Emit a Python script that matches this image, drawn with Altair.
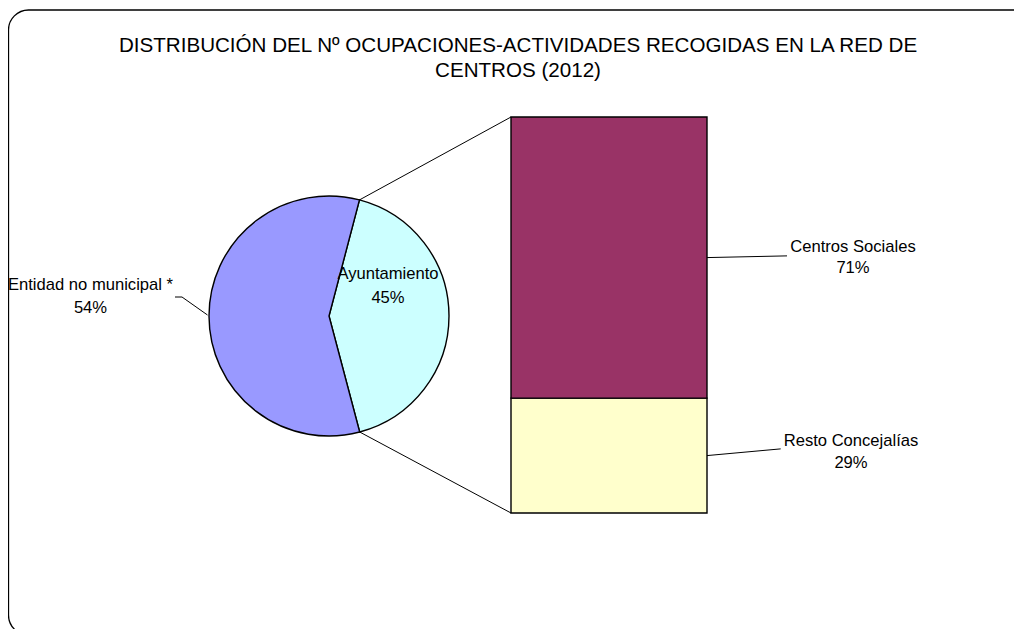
import math
import altair as alt
import pandas as pd

# ---------------- data ----------------
title_lines = ["DISTRIBUCIÓN DEL Nº OCUPACIONES-ACTIVIDADES RECOGIDAS EN LA RED DE",
               "CENTROS (2012)"]

pie_labels = ["Ayuntamiento", "Entidad no municipal *"]
pie_share = [41.8, 58.2]          # slice sizes as drawn in the reference (% of circle)
pie_pct_text = ["45%", "54%"]     # printed data labels

bar_labels = ["Resto Concejalías", "Centros Sociales"]
bar_share = [29, 71]
bar_pct_text = ["29%", "71%"]

# ---------------- styles / layout ----------------
colour_domain = pie_labels + bar_labels
colour_range = ["#CCFFFF", "#9999FF", "#FFFFCC", "#993366"]
FONT = "Liberation Sans"
W, H = 1006, 621
CX, CY, R = 321, 308, 120
START = math.radians(14.7)
BAR_X0, BAR_X1, BAR_TOP, BAR_BOT = 503, 699, 109, 505

# tables built from the arrays
pie_t1 = []
acc = 0
for v in pie_share:
    pie_t1.append(acc + v)
    acc += v
pie_df = pd.DataFrame({"cat": pie_labels,
                       "t0": [t - v for t, v in zip(pie_t1, pie_share)],
                       "t1": pie_t1})
bar_t1 = []
acc = 0
for v in bar_share:
    bar_t1.append(acc + v)
    acc += v
bar_df = pd.DataFrame({"cat": bar_labels,
                       "y0": [t - v for t, v in zip(bar_t1, bar_share)],
                       "y1": bar_t1})
one = pd.DataFrame({"k": [0]})

colour = alt.Color("cat:N", scale=alt.Scale(domain=colour_domain, range=colour_range), legend=None)

frame = alt.Chart(one).mark_rect(cornerRadius=20, fill="white", stroke="black", strokeWidth=1.3).encode(
    x=alt.value(0.5), x2=alt.value(1025), y=alt.value(2), y2=alt.value(627))

title = alt.Chart(one).mark_text(font=FONT, fontSize=20.6, align="center", baseline="alphabetic",
                                 lineBreak="\n", lineHeight=25, color="black").encode(
    x=alt.value(510), y=alt.value(44), text=alt.value("\n".join(title_lines)))

pie = alt.Chart(pie_df).mark_arc(radius=R, stroke="black", strokeWidth=1.4).encode(
    theta=alt.Theta("t0:Q", scale=alt.Scale(domain=[0, 100], range=[START, START + 2 * math.pi])),
    theta2="t1:Q",
    color=colour,
    x=alt.value(CX), y=alt.value(CY))

bar = alt.Chart(bar_df).mark_rect(stroke="black", strokeWidth=1.4).encode(
    y=alt.Y("y0:Q", scale=alt.Scale(domain=[0, 100], range=[BAR_BOT, BAR_TOP]), axis=None),
    y2="y1:Q",
    x=alt.value(BAR_X0), x2=alt.value(BAR_X1),
    color=colour)

# connector lines from the pie's secondary slice edges to the bar corners
a1 = START
a2 = START + 2 * math.pi * pie_share[0] / 100
p1 = (CX + R * math.sin(a1), CY - R * math.cos(a1))
p2 = (CX + R * math.sin(a2), CY - R * math.cos(a2))


def seg(xa, ya, xb, yb):
    return alt.Chart(one).mark_rule(color="black", strokeWidth=1).encode(
        x=alt.value(xa), y=alt.value(ya), x2=alt.value(xb), y2=alt.value(yb))


def ypix(v):
    return BAR_BOT - (BAR_BOT - BAR_TOP) * v / 100


conn = [seg(p1[0], p1[1], BAR_X0, BAR_TOP), seg(p2[0], p2[1], BAR_X0, BAR_BOT)]

# bar leader lines (from segment middles)
mid_resto = ypix((bar_df.y0[0] + bar_df.y1[0]) / 2)
mid_centros = ypix((bar_df.y0[1] + bar_df.y1[1]) / 2)
leaders = [
    seg(BAR_X1, mid_centros, 779, mid_centros - 1.7),
    seg(BAR_X1, mid_resto, 772.7, mid_resto - 6.7),
    seg(167, 289, 174, 289),
    seg(174, 289, 199.5, 307),
]


def label(txt, x, y, lh):
    return alt.Chart(one).mark_text(font=FONT, fontSize=16.6, align="center", baseline="alphabetic",
                                    lineBreak="\n", lineHeight=lh, color="black").encode(
        x=alt.value(x), y=alt.value(y), text=alt.value(txt))


labels = [
    label(pie_labels[1] + "\n" + pie_pct_text[1], 82.5, 282, 22.7),
    label(pie_labels[0] + "\n" + pie_pct_text[0], 380, 271.3, 24),
    label(bar_labels[1] + "\n" + bar_pct_text[1], 845, 243.7, 21.6),
    label(bar_labels[0] + "\n" + bar_pct_text[0], 843, 438, 22.3),
]

chart = alt.layer(frame, title, *conn, pie, bar, *leaders, *labels).properties(
    width=W, height=H, padding=0, autosize=alt.AutoSizeParams(type="none"),
    background="white"
).configure_view(stroke=None)

chart.save("out.html", embed_options={"renderer": "svg", "actions": False})
